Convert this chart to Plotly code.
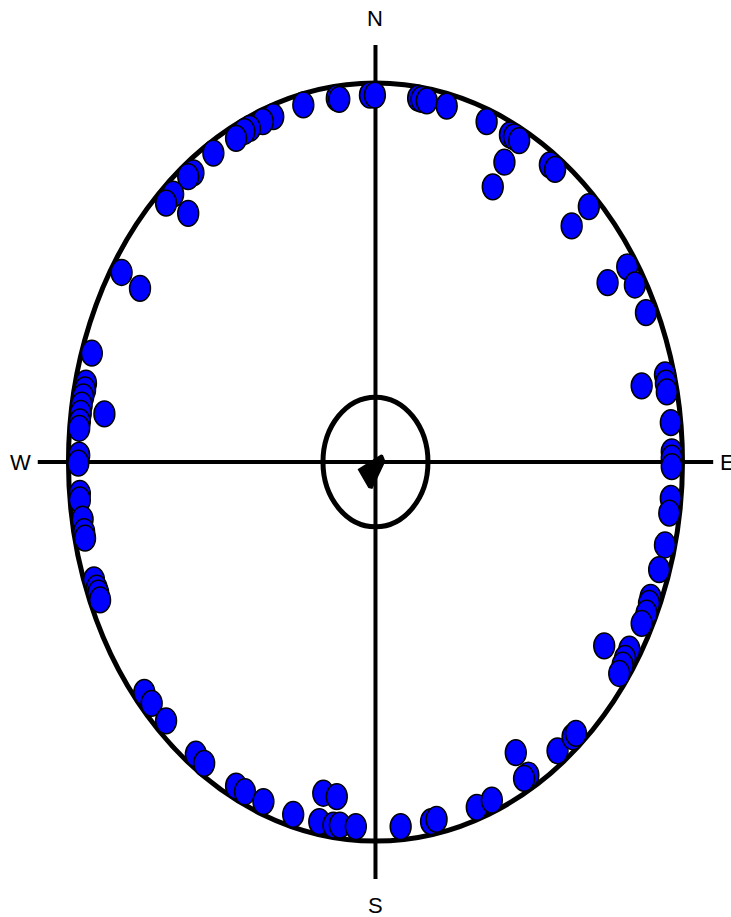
import plotly.graph_objects as go

# Projected point positions (unit primitive circle)
PX = [-0.235, -0.333, -0.367, -0.409, -0.427, -0.454, -0.528, -0.593, -0.610, -0.659,
      -0.682, -0.610, -0.827, -0.767, -0.126, -0.118, -0.018, -0.002, 0.139, 0.150,
      0.167, 0.232, 0.362, 0.438, 0.451, 0.468, 0.420, 0.382, 0.568, 0.585,
      0.695, 0.639, 0.820, 0.756, 0.845, 0.881, 0.867, 0.943, 0.946, 0.949,
      0.962, 0.965, 0.965, 0.965, 0.962, 0.957, 0.943, 0.924, -0.924, -0.943,
      -0.946, -0.952, -0.957, -0.960, -0.963, -0.965, -0.883, -0.965, -0.968, -0.963,
      -0.963, -0.954, -0.949, -0.946, -0.917, -0.908, -0.903, -0.897, 0.896, 0.891,
      0.883, 0.867, 0.745, 0.827, 0.813, 0.805, 0.794, -0.753, -0.729, -0.682,
      -0.585, -0.558, -0.454, -0.425, -0.365, -0.268, -0.170, -0.126, -0.183, -0.137,
      -0.116, -0.064, 0.082, 0.181, 0.199, 0.330, 0.379, 0.457, 0.498, 0.484,
      0.593, 0.642, 0.653]
PY = [0.942, 0.911, 0.898, 0.880, 0.872, 0.854, 0.815, 0.763, 0.753, 0.707,
      0.683, 0.656, 0.500, 0.458, 0.960, 0.957, 0.968, 0.968, 0.960, 0.957,
      0.953, 0.939, 0.898, 0.863, 0.858, 0.848, 0.791, 0.726, 0.784, 0.772,
      0.674, 0.623, 0.515, 0.473, 0.467, 0.394, 0.201, 0.230, 0.208, 0.185,
      0.104, 0.027, 0.010, -0.012, -0.096, -0.135, -0.219, -0.284, 0.287, 0.208,
      0.190, 0.172, 0.150, 0.128, 0.106, 0.089, 0.127, 0.018, -0.003, -0.083,
      -0.100, -0.151, -0.184, -0.201, -0.311, -0.333, -0.346, -0.364, -0.357, -0.373,
      -0.399, -0.426, -0.485, -0.494, -0.518, -0.536, -0.558, -0.608, -0.637, -0.683,
      -0.771, -0.795, -0.855, -0.870, -0.896, -0.930, -0.874, -0.883, -0.949, -0.958,
      -0.958, -0.962, -0.962, -0.949, -0.943, -0.911, -0.892, -0.767, -0.826, -0.835,
      -0.762, -0.725, -0.716]

CONE_RADIUS = 0.171
MEAN_ARROW_X = [0.021, 0.029, -0.012, -0.021, -0.054, 0.021]
MEAN_ARROW_Y = [0.018, 0.002, -0.068, -0.066, -0.020, 0.018]

LABELS = ["N", "S", "W", "E"]
LABEL_X = [0.0, 0.0, -1.157, 1.147]
LABEL_Y = [1.171, -1.169, 0.0, 0.0]

R = 0.034  # marker radius in data units

fig = go.Figure()

shapes = []
# primitive circle
shapes.append(dict(type="circle", xref="x", yref="y", x0=-1, x1=1, y0=-1, y1=1,
                   line=dict(color="black", width=5)))
# axes cross
shapes.append(dict(type="line", xref="x", yref="y", x0=-1.1, x1=1.1, y0=0, y1=0,
                   line=dict(color="black", width=4)))
shapes.append(dict(type="line", xref="x", yref="y", x0=0, x1=0, y0=-1.1, y1=1.1,
                   line=dict(color="black", width=4)))
# confidence cone
shapes.append(dict(type="circle", xref="x", yref="y",
                   x0=-CONE_RADIUS, x1=CONE_RADIUS, y0=-CONE_RADIUS, y1=CONE_RADIUS,
                   line=dict(color="black", width=5)))
# data points
for x, y in zip(PX, PY):
    shapes.append(dict(type="circle", xref="x", yref="y",
                       x0=x - R, x1=x + R, y0=y - R, y1=y + R,
                       fillcolor="#0000ff", line=dict(color="black", width=1.5)))

fig.add_trace(go.Scatter(x=MEAN_ARROW_X, y=MEAN_ARROW_Y, mode="lines", fill="toself",
                         fillcolor="black", line=dict(color="black", width=2),
                         hoverinfo="skip", showlegend=False))

annotations = [dict(x=lx, y=ly, xref="x", yref="y", text=t, showarrow=False,
                    xanchor="center", yanchor="middle",
                    font=dict(family="Liberation Sans", size=22, color="black"))
               for t, lx, ly in zip(LABELS, LABEL_X, LABEL_Y)]

fig.update_layout(
    width=731, height=917,
    margin=dict(l=0, r=0, t=0, b=0),
    paper_bgcolor="white", plot_bgcolor="white",
    shapes=shapes, annotations=annotations,
    showlegend=False,
    xaxis=dict(range=[-1.223, 1.158], visible=False, fixedrange=True),
    yaxis=dict(range=[-1.2005, 1.219], visible=False, fixedrange=True),
)

fig.write_html("out.html", config={"displayModeBar": False},
               post_script="document.body.style.margin='0';document.body.style.overflow='hidden';")
